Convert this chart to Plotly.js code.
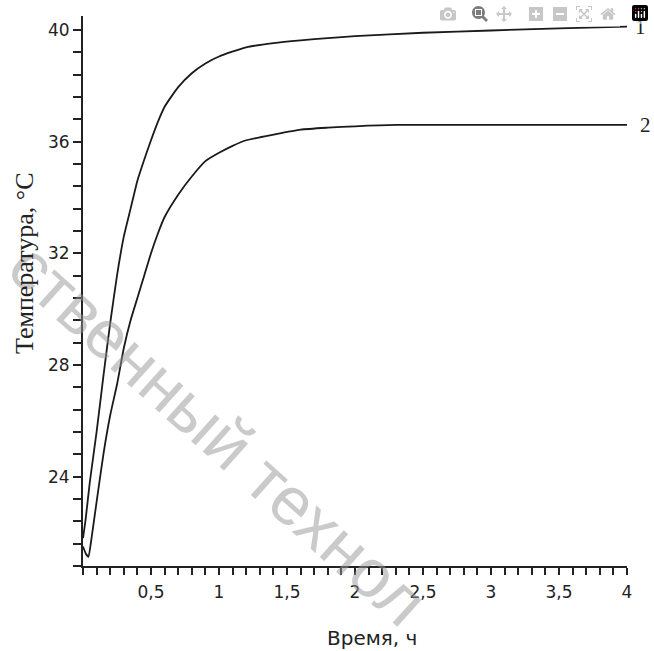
<!DOCTYPE html>
<html>
<head>
<meta charset="utf-8">
<script src="https://cdn.plot.ly/plotly-3.0.1.min.js"></script>
</head>
<body style="margin:0">
<div id="chart" style="width:654px;height:651px"></div>
<script>
// Curve 1
const time1 = [0, 0.02, 0.05, 0.1, 0.15, 0.2, 0.25, 0.3, 0.35, 0.4, 0.45, 0.5, 0.55, 0.6, 0.7, 0.8, 0.9, 1.0, 1.2, 1.4, 1.6, 1.8, 2.0, 2.5, 3.0, 3.5, 4.0];
const temp1 = [21.8, 22.5, 23.8, 25.6, 27.6, 29.5, 31.2, 32.6, 33.6, 34.6, 35.35, 36.05, 36.7, 37.25, 37.95, 38.45, 38.8, 39.05, 39.38, 39.53, 39.63, 39.71, 39.78, 39.9, 39.98, 40.06, 40.12];
// Curve 2
const time2 = [0, 0.02, 0.04, 0.06, 0.1, 0.15, 0.2, 0.25, 0.3, 0.35, 0.4, 0.45, 0.5, 0.55, 0.6, 0.7, 0.8, 0.9, 1.0, 1.1, 1.2, 1.4, 1.6, 1.8, 2.0, 2.3, 3.0, 4.0];
const temp2 = [21.5, 21.25, 21.13, 21.7, 23.1, 24.8, 26.2, 27.3, 28.6, 29.6, 30.4, 31.2, 32.0, 32.7, 33.3, 34.1, 34.75, 35.3, 35.6, 35.85, 36.05, 36.25, 36.43, 36.5, 36.55, 36.6, 36.6, 36.6];
const curveLabels = ["1", "2"];
const xTitle = "Время, ч";
const yTitle = "Температура, °С";
const watermark = "ственный технол";

const tr = [
  {x: time1, y: temp1, mode: 'lines', line: {color: '#1a1a1a', width: 1.8, shape: 'spline', smoothing: 0.5}},
  {x: time2, y: temp2, mode: 'lines', line: {color: '#1a1a1a', width: 1.8, shape: 'spline', smoothing: 0.5}}
];

const lay = {
  width: 654, height: 651,
  margin: {l: 83, r: 27, t: 16, b: 85},
  showlegend: false,
  separators: ',.',
  xaxis: {
    range: [0, 4], dtick: 0.5, ticks: 'outside', ticklen: 7,
    showgrid: false, zeroline: false, showline: true, linewidth: 2, linecolor: '#222',
    tickwidth: 1.5, tickcolor: '#222', labelalias: {'0': ' '},
    tickfont: {family: 'DejaVu Sans', size: 17, color: '#222'}, ticklabelstandoff: 3,
    minor: {ticks: 'outside', ticklen: 7, dtick: 0.1, tickcolor: '#222'}
  },
  yaxis: {
    range: [20.8, 40.5], dtick: 4, ticks: 'outside', ticklen: 8,
    showgrid: false, zeroline: false, showline: true, linewidth: 2, linecolor: '#222',
    tickwidth: 1.5, tickcolor: '#222',
    tickfont: {family: 'DejaVu Sans', size: 17, color: '#222'},
    minor: {ticks: 'outside', ticklen: 8, dtick: 0.8, tickcolor: '#222'}
  },
  annotations: [
    {text: watermark, xref: 'paper', yref: 'paper', x: (218 - 83) / 544, y: (566 - 433) / 550,
     xanchor: 'center', yanchor: 'middle', textangle: 42, showarrow: false,
     font: {family: 'Liberation Sans, Arial, sans-serif', size: 68, color: 'rgba(150,150,150,0.5)'}},
    {text: xTitle, xref: 'paper', yref: 'paper', x: (372 - 83) / 544, y: (566 - 638) / 550,
     xanchor: 'center', yanchor: 'middle', showarrow: false,
     font: {family: 'DejaVu Sans, sans-serif', size: 20, color: '#222'}},
    {text: yTitle, xref: 'paper', yref: 'paper', x: (24 - 83) / 544, y: (566 - 263) / 550,
     xanchor: 'center', yanchor: 'middle', textangle: -90, showarrow: false,
     font: {family: 'Liberation Serif, Times New Roman, serif', size: 26, color: '#222'}},
    {text: curveLabels[0], xref: 'paper', yref: 'y', x: 1, y: temp1[temp1.length - 1],
     xanchor: 'center', yanchor: 'middle', xshift: 13, showarrow: false,
     font: {family: 'Liberation Serif, Times New Roman, serif', size: 21, color: '#222'}},
    {text: curveLabels[1], xref: 'paper', yref: 'y', x: 1, y: temp2[temp2.length - 1],
     xanchor: 'center', yanchor: 'middle', xshift: 18, showarrow: false,
     font: {family: 'Liberation Serif, Times New Roman, serif', size: 21, color: '#222'}}
  ]
};
Plotly.newPlot('chart', tr, lay);
</script>
</body>
</html>
